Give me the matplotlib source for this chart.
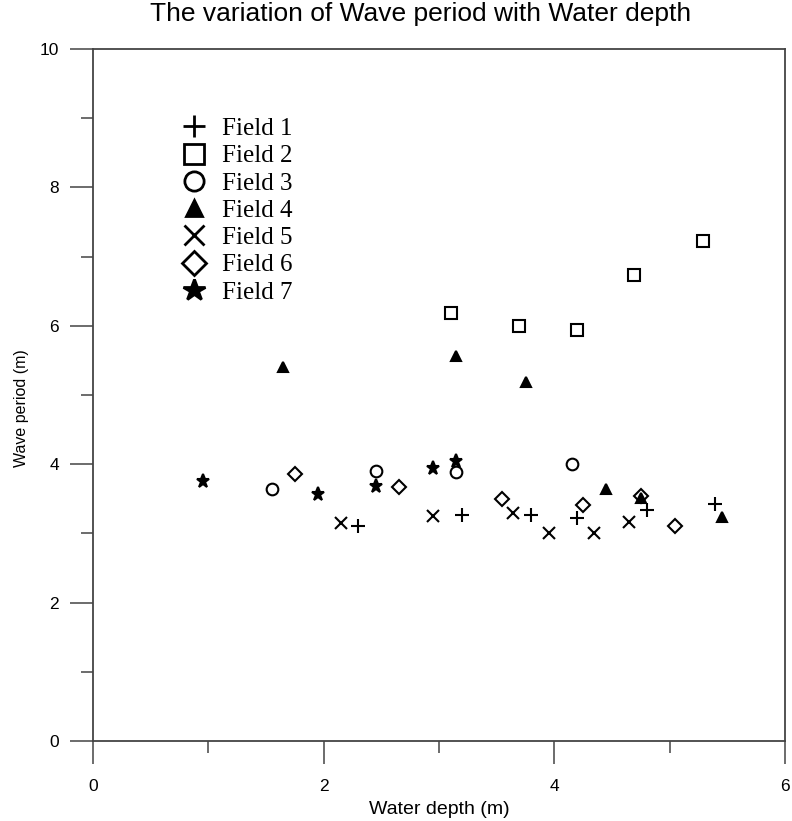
import matplotlib
matplotlib.use("Agg")
import matplotlib.pyplot as plt
from matplotlib.lines import Line2D
from matplotlib.ticker import MultipleLocator

# Data (water depth in m, wave period)
field1_x = [2.30, 3.20, 3.80, 4.20, 4.80, 5.39]
field1_y = [3.11, 3.27, 3.27, 3.22, 3.34, 3.42]

field2_x = [3.10, 3.69, 4.20, 4.69, 5.29]
field2_y = [6.18, 6.00, 5.94, 6.73, 7.23]

field3_x = [1.55, 2.45, 3.15, 4.15]
field3_y = [3.64, 3.90, 3.89, 4.00]

field4_x = [1.65, 3.15, 3.75, 4.45, 4.75, 5.45]
field4_y = [5.40, 5.56, 5.19, 3.64, 3.51, 3.24]

field5_x = [2.15, 2.95, 3.64, 3.95, 4.34, 4.65]
field5_y = [3.15, 3.25, 3.29, 3.01, 3.01, 3.16]

field6_x = [1.75, 2.65, 3.55, 4.25, 4.75, 5.05]
field6_y = [3.86, 3.67, 3.50, 3.41, 3.54, 3.11]

field7_x = [0.95, 1.95, 2.45, 2.95, 3.15]
field7_y = [3.76, 3.57, 3.69, 3.95, 4.05]

labels = ["Field 1", "Field 2", "Field 3", "Field 4", "Field 5", "Field 6", "Field 7"]

plt.rcParams["font.family"] = ["Liberation Sans", "DejaVu Sans"]

fig = plt.figure(figsize=(7.92, 8.21), dpi=100)
ax = fig.add_axes([93 / 792, 80 / 821, 692 / 792, 692 / 821])

# (x, y, marker, size, filled)
series = [
    (field1_x, field1_y, "+", 9.4, False),
    (field2_x, field2_y, "s", 8.4, False),
    (field3_x, field3_y, "o", 8.4, False),
    (field4_x, field4_y, "^", 7.2, True),
    (field5_x, field5_y, "x", 8.6, False),
    (field6_x, field6_y, "D", 7.4, False),
    (field7_x, field7_y, "*", 9.8, True),
]

handles = []
for (x, y, m, ms, filled), lab in zip(series, labels):
    face = "black" if filled else "none"
    ax.plot(x, y, linestyle="none", marker=m, markersize=ms,
            markerfacecolor=face, markeredgecolor="black", markeredgewidth=1.5,
            clip_on=False)
    handles.append(Line2D([], [], linestyle="none", marker=m, markersize=ms * 1.65,
                          markerfacecolor=face, markeredgecolor="black",
                          markeredgewidth=2.0))

ax.legend(handles, labels, loc="upper left", bbox_to_anchor=(0.13, 0.901),
          frameon=False, borderpad=0, borderaxespad=0, handlelength=0.9,
          handletextpad=0.68, labelspacing=0.19,
          prop={"family": "Liberation Serif", "size": 18})

ax.set_xlim(0, 6)
ax.set_ylim(0, 10)
ax.xaxis.set_major_locator(MultipleLocator(2))
ax.xaxis.set_minor_locator(MultipleLocator(1))
ax.yaxis.set_major_locator(MultipleLocator(2))
ax.yaxis.set_minor_locator(MultipleLocator(1))

for sp in ax.spines.values():
    sp.set_color("#444444")
    sp.set_linewidth(1.3)

ax.tick_params(which="major", direction="out", length=16.5, width=1.1,
               color="#444444", labelsize=12.5)
ax.tick_params(axis="y", which="major", pad=8)
ax.tick_params(axis="x", which="major", pad=11)
ax.tick_params(which="minor", direction="out", length=8.5, width=1.1,
               color="#444444")

ax.set_xlabel("Water depth (m)", fontsize=14)
ax.set_ylabel("Wave period (m)", fontsize=11.5)
ax.xaxis.set_label_coords(0.5, -0.087)
ax.yaxis.set_label_coords(-0.092, 0.481)

fig.text(421 / 792, 1 - 14 / 821, "The variation of Wave period with Water depth",
         ha="center", va="center", fontsize=19)

fig.savefig("out.png", dpi=100)
